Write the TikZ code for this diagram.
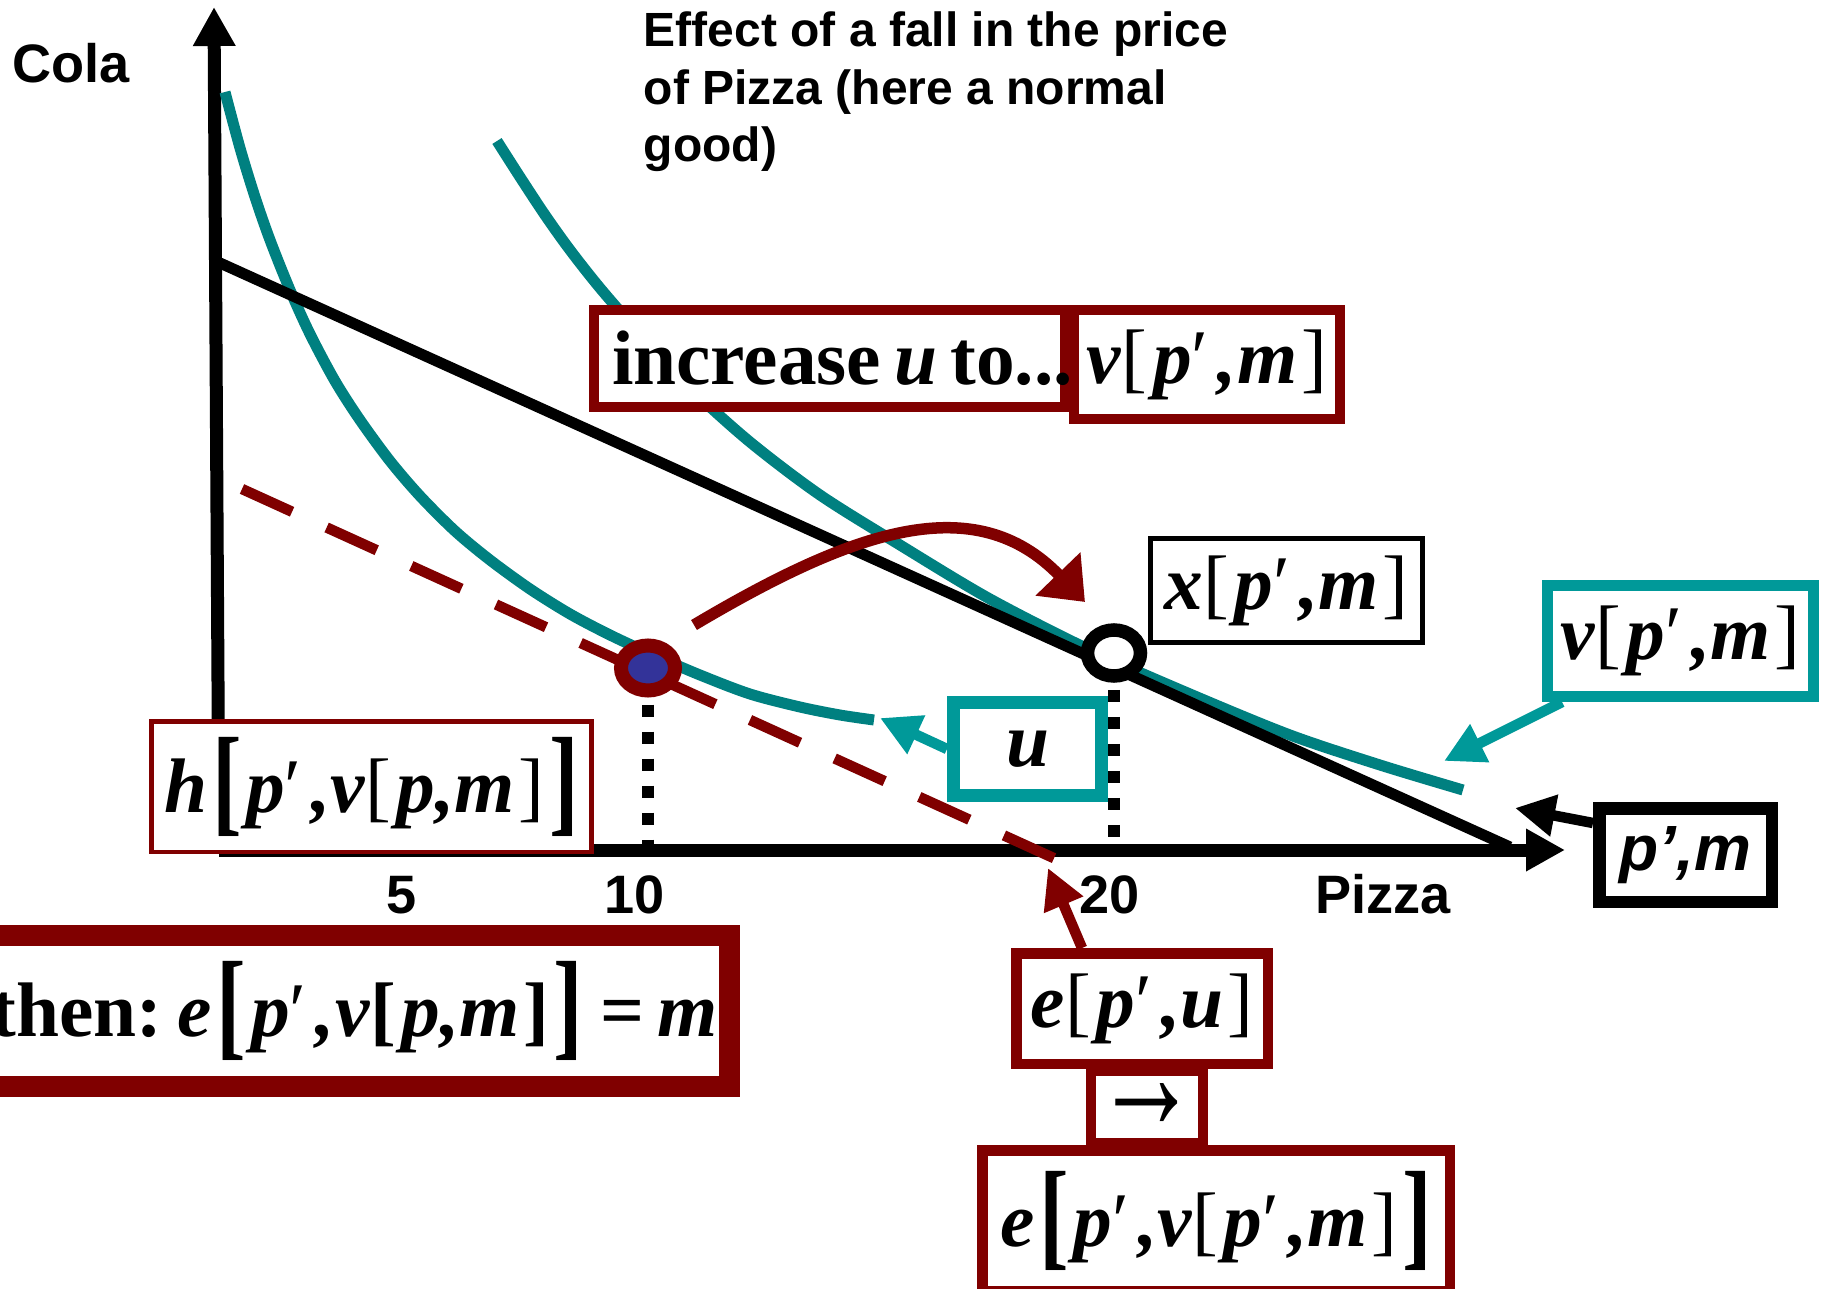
\documentclass[tikz,border=0pt]{standalone}
\usepackage{fontspec}
\usepackage{graphicx}
\setmainfont{Liberation Serif}
\newfontfamily\arialfont{Liberation Sans}
\usetikzlibrary{arrows.meta,shapes.geometric}
\definecolor{slideRed}{RGB}{128,0,0}
\definecolor{slideTeal}{RGB}{0,128,128}
\definecolor{slideTealBox}{RGB}{0,153,153}
\definecolor{slideBlue}{RGB}{51,51,153}
\newcommand{\eqit}[1]{\textbf{\textit{#1}}}
\newcommand{\prm}{\textnormal{′}\hspace{0.12em}}
\newcommand{\lbr}{[\hspace{0.07em}}
\newcommand{\rbr}{\hspace{0.05em}]}
\newcommand{\bigbrk}[1]{\hspace{0.06em}\raisebox{-0.1em}{\scalebox{1.15}[1.55]{\bfseries #1}}\hspace{0.06em}}

\begin{document}
\begin{tikzpicture}[x=0.1mm,y=-0.1mm,
  sanslbl/.style={inner sep=0pt,font=\arialfont\bfseries\fontsize{15.4}{18}\selectfont},
  eqbox/.style={draw=slideRed,fill=white,inner sep=0pt,font=\fontsize{22}{26}\selectfont},
  tealbox/.style={eqbox,draw=slideTealBox},
  icurve/.style={slideTeal,line width=1.1mm,smooth},
  dotline/.style={line width=1.15mm,dash pattern=on 1.2mm off 1.5mm},
  boxarrow/.style={line width=1.05mm,-{Triangle[length=4mm,width=4mm]}}]
  \useasboundingbox (0,0) rectangle (1827,1289);

  \coordinate (o) at (219,850);
  \coordinate (ytop) at (214,7);
  \coordinate (xend) at (1565,850);
  \draw[line width=1.3mm,-{Triangle[length=3.9mm,width=4mm]}] (o) -- (ytop);
  \draw[line width=1.3mm,-{Triangle[length=3.9mm,width=4mm]}] (o) -- (xend);

  \draw[icurve] plot coordinates {(225,92) (240,148) (255,197) (270,240) (290,290) (310,334) (335,381) (360,420) (390,461) (420,496) (455,531) (490,560) (530,589) (570,614) (610,635) (651,654) (700,675) (750,694) (800,707) (840,715) (874,720)};
  \draw[icurve] plot coordinates {(497,141) (520,177) (545,215) (570,250) (600,288) (640,334) (690,388) (750,442) (820,495) (900,545) (990,599) (1090,650) (1190,694) (1290,735) (1380,765) (1463,790)};
  \draw[line width=1.1mm] (220,263) -- (1510,847);
  \draw[slideRed,line width=1.05mm,dash pattern=on 5.5mm off 3.8mm] (242,489) -- (1058,860);

  \node[ellipse,draw=slideRed,fill=slideBlue,line width=1.4mm,minimum width=5.4mm,minimum height=4.5mm,inner sep=0pt] (hpt) at (648,668) {};
  \node[ellipse,draw=black,fill=white,line width=1.35mm,minimum width=5.3mm,minimum height=4.6mm,inner sep=0pt] (xpt) at (1114,653) {};
  \draw[dotline] ([yshift=-0.7mm]hpt.south) -- (hpt.south |- o);
  \draw[dotline] ([yshift=-0.7mm]xpt.south) -- (xpt.south |- o);

  \coordinate (arcA) at (694,625);
  \coordinate (arcB) at (1085,602);
  \draw[slideRed,line width=1.15mm,-{Triangle[length=3.9mm,width=6mm]}] (arcA) .. controls (854,530) and (975,488) .. (arcB);

  \node[sanslbl,anchor=base west] (cola) at (12,82) {Cola};
  \node[sanslbl,anchor=base] (pizza) at (1383,913) {Pizza};
  \node[sanslbl,anchor=base] (n5) at (402,913) {5};
  \node[sanslbl,anchor=base] (n10) at (635,913) {10};
  \node[sanslbl,anchor=base] (n20) at (1110,913) {20};
  \node[anchor=base west,align=left,inner sep=0pt,font=\arialfont\bfseries\fontsize{13.66}{16.5}\selectfont] (title) at (643,162) {Effect of a fall in the price\\of Pizza (here a normal\\good)};

  \node[eqbox,line width=1mm,minimum width=47.1mm,minimum height=9.7mm,text width=43.5mm,inner xsep=1.8mm,align=left] (incbox) at (829.5,358.5) {\mbox{\bfseries increase\hspace{0.17em}\eqit{u}\hspace{0.17em}to...}};
  \node[eqbox,line width=1mm,minimum width=26.6mm,minimum height=10.9mm] (vtop) at (1207,364.5) {\eqit{v}\lbr\eqit{p}\prm\eqit{,m}\rbr};
  \node[eqbox,draw=black,line width=0.5mm,minimum width=27.2mm,minimum height=10.4mm] (xbox) at (1286.5,590.5) {\eqit{x}\lbr\eqit{p}\prm\eqit{,m}\rbr};
  \node[tealbox,line width=1.1mm,minimum width=26.6mm,minimum height=11.1mm] (vbox) at (1680.5,641) {\eqit{v}\lbr\eqit{p}\prm\eqit{,m}\rbr};
  \node[tealbox,line width=1.3mm,minimum width=14.8mm,minimum height=9.3mm] (ubox) at (1027.5,749) {\eqit{u}};
  \node[eqbox,line width=0.45mm,minimum width=44.05mm,minimum height=13.05mm] (hbox) at (371.5,786.5) {\eqit{h}\bigbrk{[}\eqit{p}\prm\eqit{,v}\lbr\eqit{p,m}\rbr\bigbrk{]}};
  \node[eqbox,anchor=east,line width=2.1mm,minimum height=15.1mm,inner xsep=1.1mm] (thenbox) at (739.5,1011) {\bfseries then:\hspace{0.2em}\eqit{e}\bigbrk{[}\eqit{p}\prm\eqit{,v}\lbr\eqit{p,m}\rbr\bigbrk{]}\,=\,\eqit{m}};
  \node[eqbox,line width=1mm,minimum width=11.2mm,minimum height=7.2mm] (arr) at (1147,1107) {\scalebox{1.35}[2.1]{→}};
  \node[eqbox,line width=1.05mm,minimum width=25.15mm,minimum height=11.05mm] (eu) at (1142,1008.5) {\eqit{e}\lbr\eqit{p}\prm\eqit{,u}\rbr};
  \node[eqbox,line width=1.05mm,minimum width=46.75mm,minimum height=14.05mm] (ev) at (1216,1220.5) {\eqit{e}\bigbrk{[}\eqit{p}\prm\eqit{,v}\lbr\eqit{p}\prm\eqit{,m}\rbr\bigbrk{]}};
  \node[eqbox,draw=black,line width=1.25mm,minimum width=17.25mm,minimum height=9.35mm,font=\arialfont\bfseries\itshape\fontsize{18.2}{20}\selectfont] (pm) at (1685.5,855) {p’,m};

  \coordinate (uTip) at (880,718);
  \coordinate (vTip) at (1444,761);
  \coordinate (pmTip) at (1515,808);
  \coordinate (eTip) at (1048,868);
  \draw[boxarrow,slideTealBox] (ubox.west) -- (uTip);
  \draw[boxarrow,slideTealBox] ([xshift=2mm]vbox.south west) -- (vTip);
  \draw[boxarrow] ([yshift=3.2mm]pm.west) -- (pmTip);
  \draw[boxarrow,slideRed] ([xshift=-6mm]eu.north) -- (eTip);
\end{tikzpicture}
\end{document}
